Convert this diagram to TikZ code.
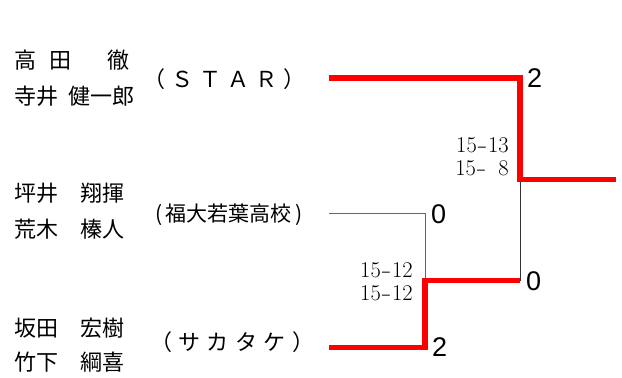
\documentclass[tikz,border=0pt]{standalone}
\usepackage{fontspec}
\newfontfamily\cjk{Noto Sans CJK JP}
\newfontfamily\digitfont{Liberation Sans}
\newcommand\dsh{\makebox[0.5em]{\scalebox{1.4}[1]{-}}}
\newcommand\blank{\makebox[0.5em]{}}
\begin{document}
\begin{tikzpicture}[x=1pt,y=-1pt,
  playername/.style={anchor=west, inner sep=0pt, font=\cjk\fontsize{22}{22}\selectfont},
  teamname/.style={anchor=west, inner sep=0pt, font=\cjk\fontsize{22}{22}\selectfont},
  winline/.style={line width=5.5pt, red, line join=miter},
  loseline/.style={line width=1pt, black!60},
  darkline/.style={line width=1pt, black!80},
  gamescore/.style={anchor=west, inner sep=0pt, font=\digitfont\fontsize{27}{27}\selectfont},
  setscore/.style={anchor=base east, inner sep=0pt, font=\fontsize{22.5}{22.5}\selectfont}]
\useasboundingbox (0,0) rectangle (622,378);
% players
\node[playername] (p1a) at (14,60) {高\hspace{13pt}田\hspace{36pt}徹};
\node[playername] (p1b) at (14,96) {寺井\hspace{10pt}健一郎};
\node[playername] (p2a) at (14,193) {坪井　翔揮};
\node[playername] (p2b) at (14,229) {荒木　榛人};
\node[playername] (p3a) at (14,328) {坂田　宏樹};
\node[playername] (p3b) at (14,362) {竹下　綱喜};
% teams
\node[teamname] (t1) at (143,79) {\makebox[162pt][s]{（\hfil Ｓ\hfil Ｔ\hfil Ａ\hfil Ｒ\hfil ）}};
\node[teamname, font=\cjk\fontsize{21}{21}\selectfont] (t2) at (155,215) {\makebox[147pt][s]{(\hfil 福大若葉高校\hfil)}};
\node[teamname] (t3) at (150,342) {\makebox[164pt][s]{（\hfil サ\hfil カ\hfil タ\hfil ケ\hfil ）}};
% bracket points
\coordinate (a1) at (329,78);
\coordinate (m1) at (520,78);
\coordinate (m1b) at (520,179.5);
\coordinate (w) at (616,179.5);
\coordinate (a2) at (329,213);
\coordinate (m2) at (425,213);
\coordinate (m2b) at (425,280.5);
\coordinate (a3) at (329,347.5);
\coordinate (m3) at (425,347.5);
\coordinate (j) at (520,280.5);
% lines
\draw[loseline] (a2) -- (m2) -- (m2b);
\draw[darkline] (m1b) -- (j);
\draw[winline] (a1) -- (m1) -- (m1b) -- (w);
\draw[winline] (a3) -- (m3) -- (m2b) -- (j);
% game scores
\node[gamescore] (s1) at (527,78) {2};
\node[gamescore] (s2) at (431,214) {0};
\node[gamescore] (s3) at (526,281) {0};
\node[gamescore] (s4) at (432,347) {2};
% set scores
\node[setscore] (r1a) at (509,152) {15\dsh13};
\node[setscore] (r1b) at (509,175) {15\dsh\blank8};
\node[setscore] (r2a) at (413,277) {15\dsh12};
\node[setscore] (r2b) at (413,300) {15\dsh12};
\end{tikzpicture}
\end{document}
